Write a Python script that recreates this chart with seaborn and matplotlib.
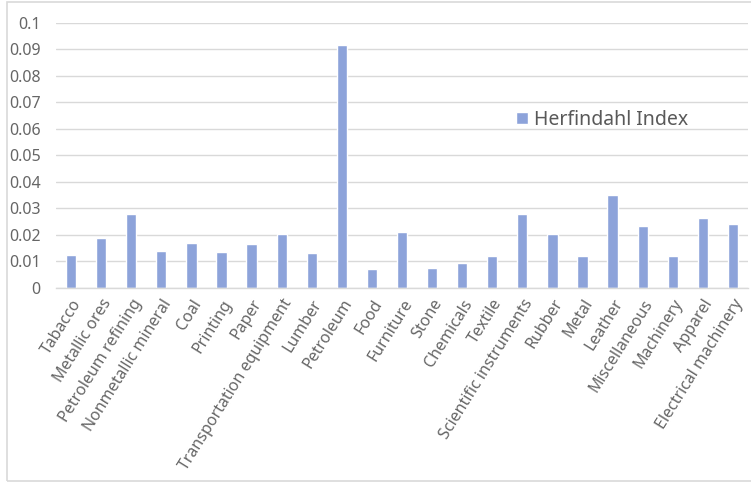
import matplotlib
matplotlib.use("Agg")
import matplotlib.pyplot as plt
import seaborn as sns
import pandas as pd

categories = ["Tabacco", "Metallic ores", "Petroleum refining", "Nonmetallic mineral",
              "Coal", "Printing", "Paper", "Transportation equipment", "Lumber",
              "Petroleum", "Food", "Furniture", "Stone", "Chemicals", "Textile",
              "Scientific instruments", "Rubber", "Metal", "Leather", "Miscellaneous",
              "Machinery", "Apparel", "Electrical machinery"]
values = [0.0124, 0.0187, 0.0280, 0.0141, 0.0170, 0.0136, 0.0166, 0.0204, 0.0132,
          0.0915, 0.0072, 0.0212, 0.0075, 0.0095, 0.0122, 0.0279, 0.0204, 0.0119,
          0.0352, 0.0232, 0.0119, 0.0263, 0.0241]
yticks = [0, 0.01, 0.02, 0.03, 0.04, 0.05, 0.06, 0.07, 0.08, 0.09, 0.1]
ytick_labels = ["0", "0.01", "0.02", "0.03", "0.04", "0.05", "0.06", "0.07", "0.08", "0.09", "0.1"]
series_name = "Herfindahl Index"

sns.set_style("white")
plt.rcParams["font.family"] = ["Noto Sans", "DejaVu Sans"]

df = pd.DataFrame({"category": categories, "value": values, "series": series_name})

fig = plt.figure(figsize=(7.51, 4.83), dpi=100)
# outer chart border
fig.patches.append(plt.Rectangle((7 / 751, 2 / 483), 1 - 7 / 751 + 0.01, 479 / 483,
                                 transform=fig.transFigure, fill=False,
                                 edgecolor="#D9D9D9", linewidth=1.2))
ax = fig.add_axes([56 / 751, 195 / 483, 692 / 751, 265.3 / 483])

bar_color = "#8DA3DA"
sns.barplot(data=df, x="category", y="value", hue="series", palette=[bar_color],
            width=0.34, ax=ax, saturation=1, legend=True)

ax.set_ylim(0, 0.1)
ax.set_xlim(-0.5, len(categories) - 0.5)
ax.set_yticks(yticks)
ax.set_yticklabels(ytick_labels)
ax.yaxis.grid(True, color="#D9D9D9", linewidth=1)
ax.set_axisbelow(True)
for s in ["top", "right", "left"]:
    ax.spines[s].set_visible(False)
ax.spines["bottom"].set_color("#D9D9D9")
ax.spines["bottom"].set_linewidth(1)
ax.set_xlabel("")
ax.set_ylabel("")
ax.tick_params(axis="both", length=0, colors="#666666")
ax.tick_params(axis="y", pad=11, labelsize=11.5)
ax.tick_params(axis="x", pad=6, labelsize=11.5)
for lab in ax.get_xticklabels():
    lab.set_rotation(58)
    lab.set_ha("right")
    lab.set_va("top")
    lab.set_rotation_mode("anchor")

leg = ax.legend(loc="center left", bbox_to_anchor=(0.64, 0.635), frameon=False,
                fontsize=14, handlelength=0.6, handleheight=0.6, handletextpad=0.3,
                labelcolor="#595959")

fig.savefig("out.png", dpi=100)
